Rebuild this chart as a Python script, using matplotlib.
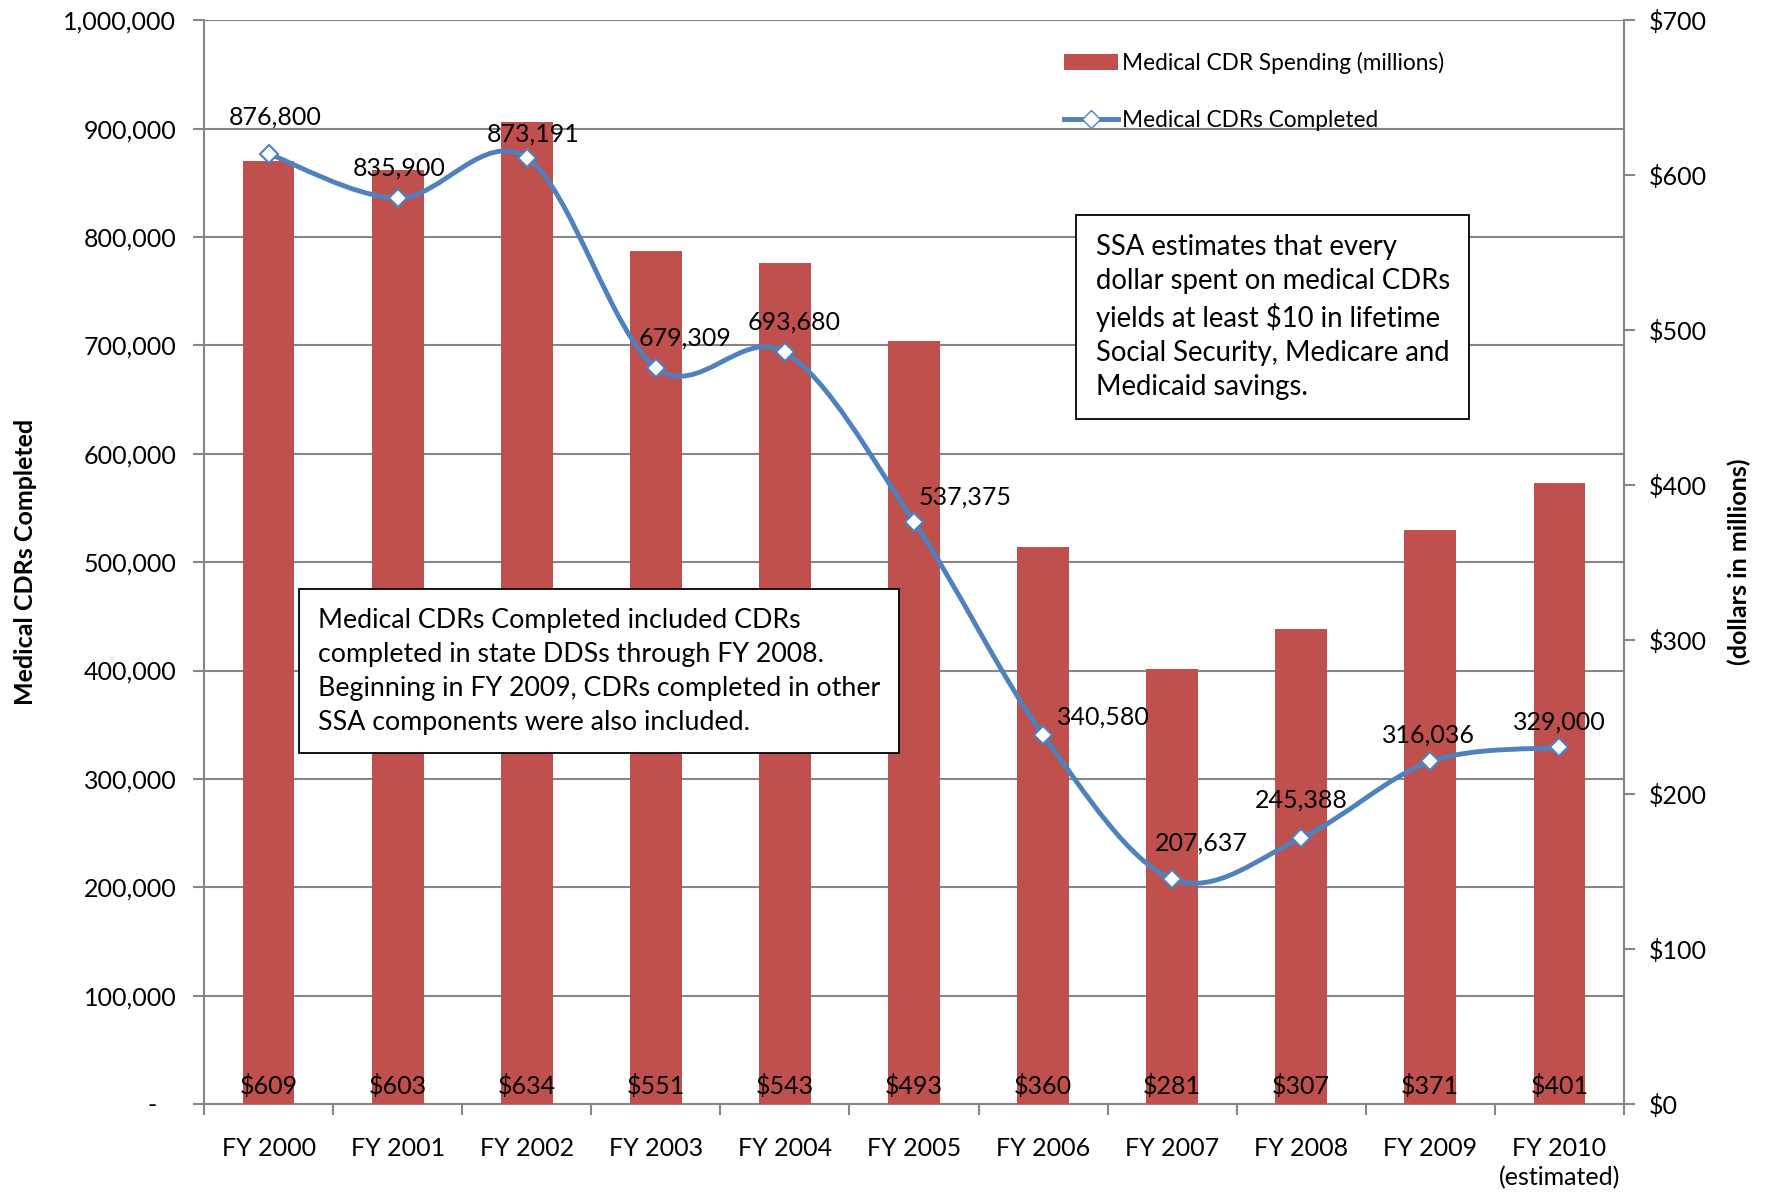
import matplotlib.pyplot as plt
import numpy as np
from matplotlib.path import Path
from matplotlib.patches import PathPatch
from matplotlib.lines import Line2D
from matplotlib.ticker import FuncFormatter, MultipleLocator

plt.rcParams['font.family'] = ['Lato', 'DejaVu Sans']

years = ["FY 2000", "FY 2001", "FY 2002", "FY 2003", "FY 2004", "FY 2005",
         "FY 2006", "FY 2007", "FY 2008", "FY 2009", "FY 2010\n(estimated)"]
cdrs_completed = [876800, 835900, 873191, 679309, 693680, 537375,
                  340580, 207637, 245388, 316036, 329000]
spending = [609, 603, 634, 551, 543, 493, 360, 281, 307, 371, 401]

# label nudges (pixels) for the line values
label_dx = [7, 1, 6, 29, 9, 51, 60, 29, 0, -2, 0]
label_dy = [37, 30, 24, 30, 30, 25, 18, 36, 38, 26, 25]

bar_color = '#C0504D'
line_color = '#4F81BD'
grid_color = '#868686'
fs = 18

fig = plt.figure(figsize=(17.67, 11.94), dpi=100)
ax = fig.add_axes([0.1155, 0.0754, 0.8035, 0.9076])
x = np.arange(len(years))

# base axes: left scale + gridlines
ax.set_xlim(-0.5, len(years) - 0.5)
ax.set_ylim(0, 1000000)
ax.yaxis.set_major_locator(MultipleLocator(100000))
ax.yaxis.set_major_formatter(FuncFormatter(lambda v, p: "-   " if v == 0 else f"{v:,.0f}"))
ax.grid(True, axis='y', color=grid_color, linewidth=1.5)
ax.set_axisbelow(True)
for s in ['top', 'right']:
    ax.spines[s].set_visible(False)
for s in ['left', 'bottom']:
    ax.spines[s].set_color(grid_color)
    ax.spines[s].set_linewidth(1.5)
ax.set_xticks(x)
ax.set_xticklabels(years, linespacing=1.3)
ax.set_xticks(np.arange(len(years) + 1) - 0.5, minor=True)
ax.tick_params(axis='x', which='major', length=0, pad=24, labelsize=fs)
ax.tick_params(axis='x', which='minor', length=8, width=1.5, color=grid_color)
ax.tick_params(axis='y', length=8, width=1.5, color=grid_color, labelsize=fs, pad=12)
ax.set_ylabel("Medical CDRs Completed", fontsize=fs, fontweight='bold')
ax.yaxis.set_label_coords(-0.118, 0.5)

# bars on right scale
ax2 = ax.twinx()
ax2.set_ylim(0, 700)
ax2.yaxis.set_major_locator(MultipleLocator(100))
ax2.yaxis.set_major_formatter(FuncFormatter(lambda v, p: f"${v:,.0f}"))
bars = ax2.bar(x, spending, width=0.4, color=bar_color, zorder=2)
for s in ['top', 'left', 'bottom']:
    ax2.spines[s].set_visible(False)
ax2.spines['right'].set_color(grid_color)
ax2.spines['right'].set_linewidth(1.5)
ax2.tick_params(axis='y', length=8, width=1.5, color=grid_color, labelsize=fs, pad=10)
ax2.set_ylabel("(dollars in millions)", fontsize=fs, fontweight='bold')
ax2.yaxis.set_label_coords(1.073, 0.5)
for xi, v in zip(x, spending):
    ax2.annotate(f"${v}", (xi, 0), xytext=(0, 18), textcoords='offset pixels',
                 ha='center', va='center', fontsize=fs)

# line on top, same scale as left axis
ax3 = ax.twinx()
ax3.set_ylim(ax.get_ylim())
ax3.axis('off')

# smoothed line (Catmull-Rom as cubic Bezier)
pts = np.column_stack([x, cdrs_completed]).astype(float)
ext = np.vstack([pts[0], pts, pts[-1]])
verts = [tuple(pts[0])]
codes = [Path.MOVETO]
for i in range(len(pts) - 1):
    p0, p1, p2, p3 = ext[i], ext[i + 1], ext[i + 2], ext[i + 3]
    c1 = p1 + (p2 - p0) / 6.0
    c2 = p2 - (p3 - p1) / 6.0
    verts += [tuple(c1), tuple(c2), tuple(p2)]
    codes += [Path.CURVE4] * 3
ax3.add_patch(PathPatch(Path(verts, codes), fill=False, edgecolor=line_color,
                        linewidth=3.5, zorder=3))
ax3.plot(x, cdrs_completed, linestyle='none', marker='D', markersize=9,
         markerfacecolor='white', markeredgecolor=line_color, markeredgewidth=1.5, zorder=4)
for xi, v, dx, dy in zip(x, cdrs_completed, label_dx, label_dy):
    ax3.annotate(f"{v:,}", (xi, v), xytext=(dx, dy), textcoords='offset pixels',
                 ha='center', va='center', fontsize=fs)

# notes
note_box = dict(boxstyle='square,pad=0.7', facecolor='white', edgecolor='black', linewidth=1.3)
ax3.text(0.628, 0.803,
         "SSA estimates that every\ndollar spent on medical CDRs\nyields at least $10 in lifetime\n"
         "Social Security, Medicare and\nMedicaid savings.",
         transform=ax3.transAxes, ha='left', va='top', fontsize=19.8, linespacing=1.38,
         bbox=note_box, zorder=5)
ax3.text(0.080, 0.458,
         "Medical CDRs Completed included CDRs\ncompleted in state DDSs through FY 2008.\n"
         "Beginning in FY 2009, CDRs completed in other\nSSA components were also included.",
         transform=ax3.transAxes, ha='left', va='top', fontsize=19.3, linespacing=1.45,
         bbox=note_box, zorder=5)

handles = [bars,
           Line2D([], [], color=line_color, linewidth=3.5, marker='D', markersize=9,
                  markerfacecolor='white', markeredgecolor=line_color)]
ax3.legend(handles, ["Medical CDR Spending (millions)", "Medical CDRs Completed"],
           loc='upper left', bbox_to_anchor=(0.591, 0.99), frameon=False, fontsize=16.3,
           labelspacing=1.6, handlelength=2.4, handletextpad=0.2)

fig.savefig("out.png", dpi=100)
